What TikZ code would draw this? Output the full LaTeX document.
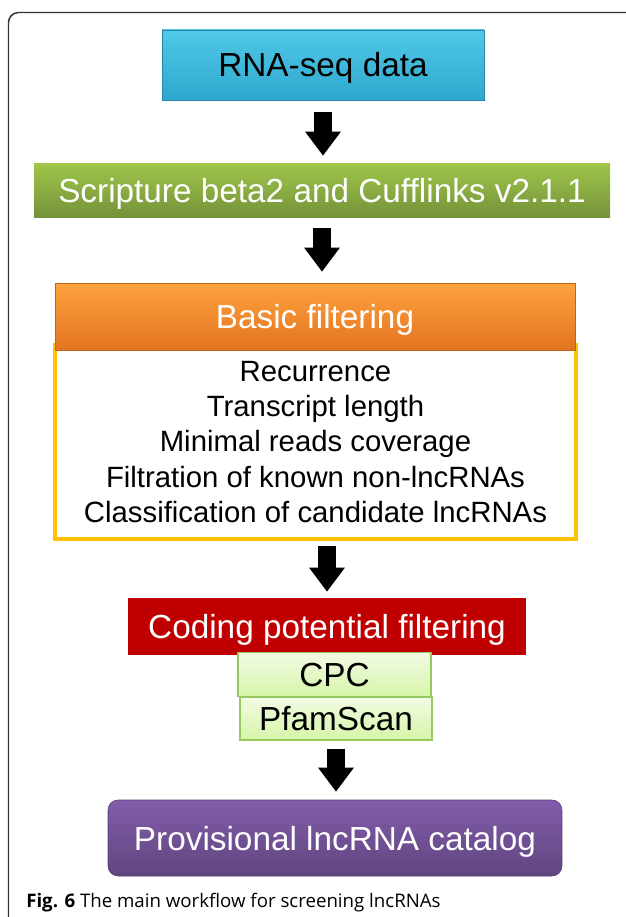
\documentclass[tikz,border=0pt]{standalone}
\usepackage{fontspec}
\setmainfont{Liberation Sans}
\newfontfamily\capfont{Open Sans}
\usepackage{tikz}
\usetikzlibrary{arrows.meta}
\usetikzlibrary{shapes}

\definecolor{rnatop}{RGB}{80,200,230}
\definecolor{rnabot}{RGB}{46,168,207}
\definecolor{tooltop}{RGB}{160,198,74}
\definecolor{toolbot}{RGB}{116,146,58}
\definecolor{filttop}{RGB}{255,162,62}
\definecolor{filtbot}{RGB}{226,116,32}
\definecolor{checkline}{RGB}{255,192,0}
\definecolor{codered}{RGB}{192,0,0}
\definecolor{subtop}{RGB}{242,251,228}
\definecolor{subbot}{RGB}{214,245,168}
\definecolor{subline}{RGB}{150,200,95}
\definecolor{cattop}{RGB}{130,92,170}
\definecolor{catbot}{RGB}{96,70,128}

\tikzset{
    stepnode/.style={inner sep=0pt, align=center, font=\fontsize{25}{30}\selectfont,
        text height=18pt, text depth=0pt},
    listnode/.style={inner sep=0pt, align=center, font=\fontsize{22}{26.6}\selectfont},
    subnode/.style={stepnode, draw=subline, line width=1.1pt, top color=subtop, bottom color=subbot,
        minimum height=33pt},
    blockarrow/.style={line width=13.5pt, -{Triangle[width=25.5pt, length=18pt]}},
}

\begin{document}
\begin{tikzpicture}[x=0.75pt, y=-0.75pt]
    \useasboundingbox (0, 0) rectangle (625, 917);
    \draw[line width=1.1pt, black!80, rounded corners=7.5pt] (8.5, 917) |- (626, 12.5);

    \node[stepnode, draw=rnabot!80!black, top color=rnatop, bottom color=rnabot,
        minimum width=241.5pt, minimum height=52.5pt] (rna) at (323, 65) {RNA-seq data};
    \node[stepnode, text=white, top color=tooltop, bottom color=toolbot,
        minimum width=432pt, minimum height=40.5pt] (tools) at (322, 190) {Scripture beta2 and Cufflinks v2.1.1};
    \node[listnode, draw=checkline, line width=3pt, fill=white,
        minimum width=390.75pt, minimum height=145.5pt] (check) at (315.5, 442)
        {Recurrence\\Transcript length\\Minimal reads coverage\\Filtration of known non-lncRNAs\\Classification of candidate lncRNAs};
    \node[stepnode, text=white, draw=filtbot!85!black, top color=filttop, bottom color=filtbot,
        minimum width=390pt, minimum height=50.25pt] (filt) at (315, 316.5) {Basic filtering};
    \node[stepnode, text=white, fill=codered,
        minimum width=298.5pt, minimum height=42.75pt] (code) at (327, 626.5) {Coding potential filtering};
    \node[subnode, minimum width=144.75pt] (cpc) at (334.5, 674.5) {CPC};
    \node[subnode, minimum width=144pt, minimum height=32.25pt] (pfam) at (336, 718.5) {PfamScan};
    \node[stepnode, text=white, draw=catbot!90!black, rounded corners=7.5pt, top color=cattop, bottom color=catbot,
        minimum width=340.5pt, minimum height=57pt] (cat) at (335, 838) {Provisional lncRNA catalog};

    \draw[blockarrow, shorten <=9pt, shorten >=5.25pt] (rna.south) -- (rna.south |- tools.north);
    \draw[blockarrow, shorten <=8.25pt, shorten >=8.25pt] (tools.south) -- (tools.south |- filt.north);
    \draw[blockarrow, shorten <=3.75pt, shorten >=4.5pt] (code.north |- check.south) -- (code.north);
    \draw[blockarrow, shorten <=6pt, shorten >=6pt] (pfam.south) -- (pfam.south |- cat.north);

    \node[anchor=base west, inner sep=0pt, font=\capfont\fontsize{14}{17}\selectfont] (caption) at (26, 907)
        {\textbf{Fig. 6} The main workflow for screening lncRNAs};
\end{tikzpicture}
\end{document}
